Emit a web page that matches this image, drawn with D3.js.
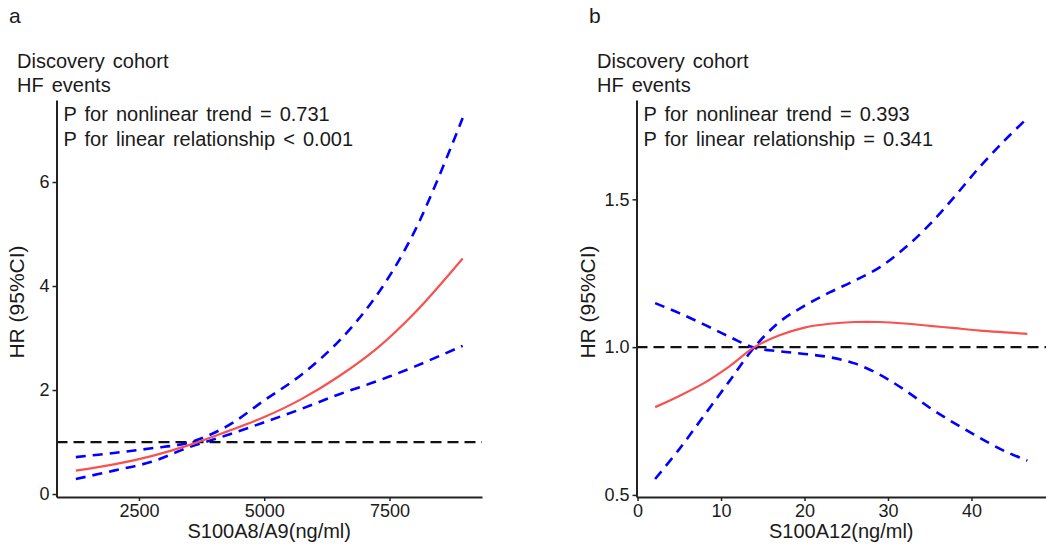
<!DOCTYPE html>
<html>
<head>
<meta charset="utf-8">
<script src="https://cdnjs.cloudflare.com/ajax/libs/d3/7.8.5/d3.min.js"></script>
<style>
  body { margin: 0; background: #fff; }
  text { font-family: "Liberation Sans", Arial, sans-serif; fill: #1a1a1a; }
  .lab { word-spacing: 2.5px; }
</style>
</head>
<body>
<svg width="1046" height="551"></svg>
<script>
// panel a: S100A8/A9
var xA = [1240, 2000, 2750, 3500, 4250, 5000, 5750, 6500, 7250, 8000, 8960];
var hrA = [0.45, 0.57, 0.73, 0.94, 1.20, 1.48, 1.83, 2.27, 2.80, 3.48, 4.53];
var upA = [0.71, 0.79, 0.88, 0.99, 1.30, 1.80, 2.30, 2.95, 3.83, 5.05, 7.23];
var loA = [0.29, 0.45, 0.62, 0.90, 1.13, 1.38, 1.64, 1.92, 2.17, 2.45, 2.85];
var xTicksA = [2500, 5000, 7500];
var yTicksA = [0, 2, 4, 6];

// panel b: S100A12
var xB = [2.1, 5, 8, 11, 14, 17, 20, 23, 26, 29, 32, 35, 38, 41, 44, 46.7];
var hrB = [0.797, 0.835, 0.879, 0.935, 1.000, 1.040, 1.066, 1.079, 1.085, 1.085, 1.080, 1.072, 1.064, 1.056, 1.050, 1.045];
var upB = [0.554, 0.655, 0.770, 0.885, 1.000, 1.085, 1.140, 1.185, 1.225, 1.270, 1.335, 1.415, 1.510, 1.610, 1.700, 1.775];
var loB = [1.149, 1.115, 1.076, 1.035, 0.998, 0.986, 0.977, 0.966, 0.945, 0.907, 0.855, 0.795, 0.742, 0.693, 0.648, 0.616];
var xTicksB = [0, 10, 20, 30, 40];
var yTicksB = [0.5, 1.0, 1.5];

var svg = d3.select("svg");

// ggplot-like 5% expansion
function padded(vals) {
  var e = d3.extent(vals), p = (e[1] - e[0]) * 0.05;
  return [e[0] - p, e[1] + p];
}

function panel(opt) {
  var x = d3.scaleLinear().domain(padded(opt.x)).range([opt.left, opt.right]);
  var y = d3.scaleLinear().domain(padded(opt.lo.concat(opt.up))).range([497, 100]);
  var g = svg.append("g");

  var line = function(ys) {
    return d3.line()
      .x(function(d, i) { return x(opt.x[i]); })
      .y(function(d) { return y(d); })
      .curve(d3.curveCatmullRom.alpha(0.5))(ys);
  };

  // reference line HR = 1
  g.append("line")
    .attr("x1", opt.left).attr("x2", opt.right)
    .attr("y1", y(1)).attr("y2", y(1))
    .attr("stroke", "#111").attr("stroke-width", 2.2)
    .attr("stroke-dasharray", "11,6");

  [opt.up, opt.lo].forEach(function(s) {
    g.append("path").attr("d", line(s))
      .attr("fill", "none").attr("stroke", "#0000ff")
      .attr("stroke-width", 2.6).attr("stroke-dasharray", "10,7");
  });

  g.append("path").attr("d", line(opt.hr))
    .attr("fill", "none").attr("stroke", "#f7524f")
    .attr("stroke-width", 2.2);

  var ax = g.append("g")
    .attr("transform", "translate(0,497)")
    .call(d3.axisBottom(x).tickValues(opt.xTicks).tickFormat(d3.format("d"))
      .tickSize(4).tickPadding(3).tickSizeOuter(0));
  var ay = g.append("g")
    .attr("transform", "translate(" + opt.left + ",0)")
    .call(d3.axisLeft(y).tickValues(opt.yTicks).tickFormat(opt.yFmt)
      .tickSize(4).tickPadding(3).tickSizeOuter(0));
  [ax, ay].forEach(function(a) {
    a.select(".domain").attr("stroke", "#222").attr("stroke-width", 2);
    a.selectAll(".tick line").attr("stroke", "#222").attr("stroke-width", 1.5);
    a.selectAll(".tick text").attr("font-size", "18px").attr("fill", "#1a1a1a")
      .attr("font-family", "Liberation Sans, Arial, sans-serif");
  });

  g.append("text").attr("x", (opt.left + opt.right) / 2).attr("y", 538)
    .attr("text-anchor", "middle").attr("font-size", "20px").text(opt.xTitle);
  g.append("text")
    .attr("transform", "translate(" + opt.yTitleX + ",302) rotate(-90)")
    .attr("text-anchor", "middle").attr("dy", "0.35em")
    .attr("font-size", "21px").text("HR (95%CI)");

  g.append("text").attr("x", opt.letterX).attr("y", 23).attr("font-size", "21px").text(opt.letter);
  g.append("text").attr("class", "lab").attr("x", opt.titleX).attr("y", 68).attr("font-size", "20px").text("Discovery cohort");
  g.append("text").attr("class", "lab").attr("x", opt.titleX).attr("y", 92).attr("font-size", "20px").text("HF events");
  g.append("text").attr("class", "lab").attr("x", opt.left + 7).attr("y", 121).attr("font-size", "20px").text(opt.p1);
  g.append("text").attr("class", "lab").attr("x", opt.left + 7).attr("y", 146).attr("font-size", "20px").text(opt.p2);
}

panel({
  x: xA, hr: hrA, up: upA, lo: loA, left: 56.5, right: 482,
  xTicks: xTicksA, yTicks: yTicksA, yFmt: d3.format("d"),
  xTitle: "S100A8/A9(ng/ml)", yTitleX: 17, letter: "a", letterX: 9, titleX: 17,
  p1: "P for nonlinear trend = 0.731", p2: "P for linear relationship < 0.001"
});

panel({
  x: xB, hr: hrB, up: upB, lo: loB, left: 636.5, right: 1046,
  xTicks: xTicksB, yTicks: yTicksB, yFmt: d3.format(".1f"),
  xTitle: "S100A12(ng/ml)", yTitleX: 588, letter: "b", letterX: 589, titleX: 597,
  p1: "P for nonlinear trend = 0.393", p2: "P for linear relationship = 0.341"
});
</script>
</body>
</html>
